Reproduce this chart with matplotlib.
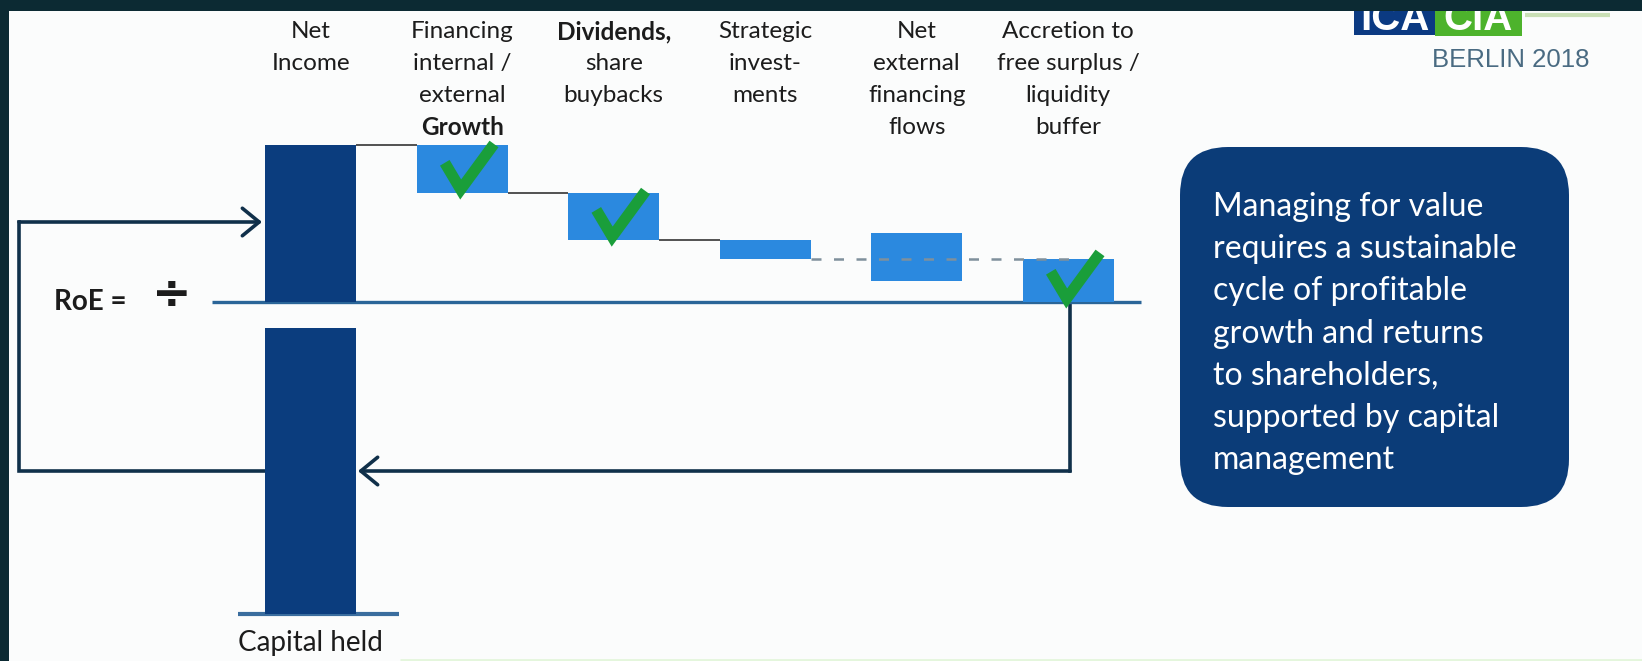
import matplotlib
matplotlib.use("Agg")
import matplotlib.pyplot as plt
from matplotlib.patches import Rectangle, FancyBboxPatch
from matplotlib.transforms import blended_transform_factory

plt.rcParams["font.family"] = ["Lato", "DejaVu Sans"]

# ---- data (net income = 100) ----
header_lines = [
    ["Net", "Income"],
    ["Financing", "internal /", "external", "Growth"],
    ["Dividends,", "share", "buybacks"],
    ["Strategic", "invest-", "ments"],
    ["Net", "external", "financing", "flows"],
    ["Accretion to", "free surplus /", "liquidity", "buffer"],
]
bold_lines = {"Growth", "Dividends,"}
net_income = 100
capital_held = 182
flow_low = [69.4, 39.4, 27.3, 13.4, 0.0]
flow_high = [100.0, 69.4, 39.4, 43.4, 27.3]
checked = [False, True, True, False, False, True]
message = [
    "Managing for value",
    "requires a sustainable",
    "cycle of profitable",
    "growth and returns",
    "to shareholders,",
    "supported by capital",
    "management",
]

# ---- colours ----
NAVY = "#0b3d7e"
LIGHT = "#2b89df"
FRAME = "#0c2a33"
LOOP = "#10304a"
AXIS_BLUE = "#2a6598"
GREEN = "#1a9e3a"
TEXT = "#1c1c1c"

# ---- layout (pixels) ----
W, H = 1642, 661
x0_px, step_px = 310.7, 151.5     # centre of first column, column pitch
zero_px, unit_px = 301.6, 1.57    # y of the divider line, pixels per value unit
gap = 16.7                        # gap between divider and capital bar

fig = plt.figure(figsize=(W / 100, H / 100), dpi=100)
fig.patch.set_facecolor("#fbfcfc")

ov = fig.add_axes([0, 0, 1, 1])
ov.set_xlim(0, W)
ov.set_ylim(H, 0)
ov.axis("off")

ax = fig.add_axes([0, 0, 1, 1])
ax.set_xlim(-x0_px / step_px, (W - x0_px) / step_px)
ax.set_ylim((zero_px - H) / unit_px, zero_px / unit_px)
ax.axis("off")
ax.patch.set_alpha(0)

n = len(header_lines)
xs = list(range(n))
bw = 0.6

# net income / capital held bars
ax.bar(0, net_income, width=bw, color=NAVY, zorder=3)
ax.bar(0, capital_held, bottom=-gap - capital_held, width=bw, color=NAVY, zorder=3)
ax.hlines(-gap - capital_held, -0.48, 0.58, color="#3a6d9e", lw=3, zorder=2)

# waterfall boxes
heights = [h - l for h, l in zip(flow_high, flow_low)]
ax.bar(xs[1:], heights, bottom=flow_low, width=bw, color=LIGHT, zorder=3)

# connectors
ax.hlines(net_income, bw / 2, 1 - bw / 2, color="#444444", lw=1.3, zorder=2)
ax.hlines(flow_low[0], 1 + bw / 2, 2 - bw / 2, color="#444444", lw=1.3, zorder=2)
ax.hlines(flow_low[1], 2 + bw / 2, 3 - bw / 2, color="#444444", lw=1.3, zorder=2)
ax.hlines(flow_low[2], 3 + bw / 2, 5.05, color="#7f909c", lw=1.8,
          linestyles=(0, (4, 5)), zorder=4)

# divider line
ax.hlines(0, -0.651, 5.48, color=AXIS_BLUE, lw=2.4, zorder=2)

# check marks
for i, ok in enumerate(checked):
    if not ok:
        continue
    lo = flow_low[i - 1]
    vx, vy = i - 0.01, lo + 2
    ax.plot([vx - 0.105, vx, vx + 0.22], [vy + 17, vy, vy + 29],
            color=GREEN, lw=8, solid_joinstyle="miter", solid_capstyle="butt",
            zorder=5)

# header labels
hdr = blended_transform_factory(ax.transData, ov.transData)
for i, lines in enumerate(header_lines):
    for k, line in enumerate(lines):
        ov.text(i, 31.5 + 32.1 * k, line, transform=hdr, ha="center", va="center",
                fontsize=17.5, color=TEXT,
                fontweight="bold" if line in bold_lines else "normal")
ov.text(0, 643, "Capital held", transform=hdr, ha="center", va="center",
        fontsize=20, color=TEXT)

# RoE =  ÷
ov.text(54, 302, "RoE =", ha="left", va="center", fontsize=20, fontweight="bold",
        color=TEXT)
ov.text(172, 296, "\u00f7", ha="center", va="center", fontsize=34,
        fontweight="bold", color=TEXT, family="DejaVu Sans")

# feedback loops
arrow = dict(arrowstyle="->,head_length=0.55,head_width=0.45", color=LOOP, lw=2.6,
             shrinkA=0, shrinkB=0, mutation_scale=22)
ov.plot([265, 19, 19], [471, 471, 222], color=LOOP, lw=2.6, zorder=1,
        solid_joinstyle="miter")
ov.annotate("", xy=(262, 222), xytext=(19, 222), arrowprops=arrow, zorder=1)
ov.plot([1070, 1070], [zero_px, 471], color=LOOP, lw=2.6, zorder=1,
        solid_joinstyle="miter")
ov.annotate("", xy=(358, 471), xytext=(1070, 471), arrowprops=arrow, zorder=1)

# message box
ov.add_patch(FancyBboxPatch((1180, 147), 389, 360,
                            boxstyle="round,pad=0,rounding_size=48",
                            facecolor="#0b3c78", edgecolor="none", zorder=2))
for k, line in enumerate(message):
    ov.text(1213, 207 + 42.2 * k, line, ha="left", va="center", fontsize=23,
            color="white", zorder=3)

# logo
ov.add_patch(Rectangle((1354, 0), 81, 35, facecolor="#0b3a82", zorder=5))
ov.add_patch(Rectangle((1435, 0), 87, 36, facecolor="#4db32c", zorder=5))
ov.text(1395, 30, "ICA", ha="center", va="baseline", fontsize=29,
        fontweight="bold", color="white", family="Liberation Sans", zorder=6)
ov.text(1478, 30, "CIA", ha="center", va="baseline", fontsize=29,
        fontweight="bold", color="white", family="Liberation Sans", zorder=6)
ov.hlines(15, 1525, 1610, color="#c9dfb5", lw=3, zorder=5)
ov.text(1590, 60, "BERLIN 2018", ha="right", va="center", fontsize=18.5,
        color="#4a6b82", family="Liberation Sans", zorder=5)

# slide frame
ov.add_patch(Rectangle((0, 0), W, 11, facecolor=FRAME, edgecolor="none", zorder=10))
ov.add_patch(Rectangle((0, 0), 9, H, facecolor=FRAME, edgecolor="none", zorder=10))
ov.hlines(H - 1, 400, W, color="#e4f6dc", lw=2, zorder=10)

fig.savefig("out.png", dpi=100, facecolor=fig.get_facecolor())
